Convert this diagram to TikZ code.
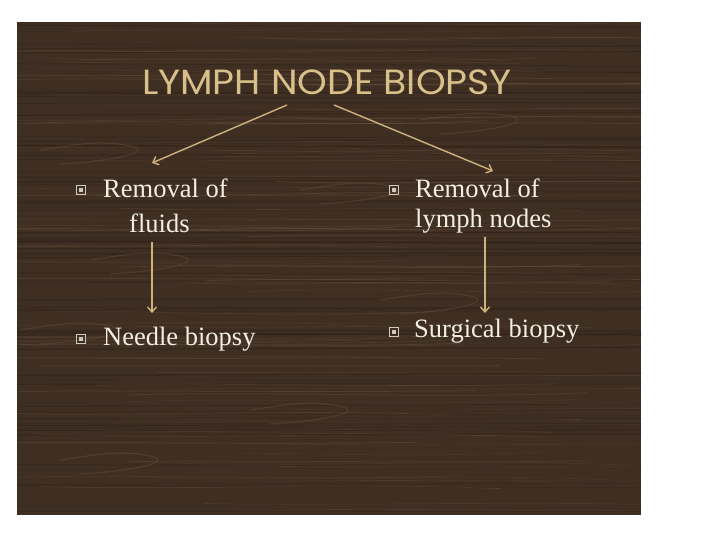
\documentclass[tikz,border=0pt]{standalone}
\usepackage{fontspec}
\newfontfamily\titlefont{Poppins}
\newfontfamily\bodyfont{Liberation Serif}
\usetikzlibrary{arrows.meta}
\definecolor{wood}{HTML}{3F2E22}
\definecolor{woodlight}{HTML}{6E5743}
\definecolor{wooddark}{HTML}{2E2118}
\definecolor{gold}{HTML}{D8C08A}
\definecolor{arrowgold}{HTML}{CDB47C}
\definecolor{bodytext}{HTML}{F3EEE2}
\tikzset{
  titletext/.style={font=\titlefont\fontsize{35}{38}\selectfont, text=gold, inner sep=0pt, xscale=1.08},
  bodytxt/.style={font=\bodyfont\fontsize{26.5}{30}\selectfont, text=bodytext, inner sep=0pt, anchor=base west, align=left},
  conn/.style={draw=arrowgold, line width=1.4pt, -{Straight Barb[length=5pt,width=9pt,line width=1.4pt]}},
  bulletbox/.style={draw=bodytext!85!black, line width=0.8pt, minimum size=8.5pt, inner sep=0pt},
}
\begin{document}
\begin{tikzpicture}[x=1pt,y=-1pt]
\useasboundingbox (0,0) rectangle (720,540);
\fill[white] (0,0) rectangle (720,540);
% wood panel
\fill[wood] (17,22) rectangle (641,515);
\begin{scope}
\clip (17,22) rectangle (641,515);
\pgfmathsetseed{7}
\foreach \i in {1,...,110}{
  \pgfmathsetmacro{\yy}{22+rnd*495}
  \pgfmathsetmacro{\dy}{(rnd-0.5)*14}
  \pgfmathsetmacro{\op}{0.15+rnd*0.35}
  \pgfmathsetmacro{\xa}{-100+rnd*400}
  \draw[woodlight, opacity=\op, line width=0.7pt] (\xa,\yy) .. controls (\xa+150,\yy+\dy) and (\xa+300,\yy-\dy) .. (\xa+460,\yy+\dy*0.5);
}
\foreach \i in {1,...,70}{
  \pgfmathsetmacro{\yy}{22+rnd*495}
  \pgfmathsetmacro{\op}{0.25+rnd*0.4}
  \draw[wooddark, opacity=\op, line width=1pt] (17,\yy) -- (641,\yy+rnd*6-3);
}
% wavy lighter grain
\foreach \yy/\xx in {150/40, 190/300, 260/90, 300/380, 330/20, 410/250, 460/60, 120/420}{
  \draw[woodlight, opacity=0.35, line width=1.2pt] (\xx,\yy) .. controls (\xx+40,\yy-6) and (\xx+60,\yy-10) .. (\xx+90,\yy-4) .. controls (\xx+120,\yy+3) and (\xx+60,\yy+12) .. (\xx+20,\yy+14);
}
\end{scope}
% title
\node[titletext] (title) at (327,82) {LYMPH NODE BIOPSY};
% left column
\node[bodytxt] (rf) at (103,197) {Removal of};
\node[bodytxt] (fl) at (129,233) {fluids};
\node[bodytxt] (nb) at (103,345) {Needle biopsy};
% right column
\node[bodytxt] (rl) at (415,197) {Removal of};
\node[bodytxt] (ln) at (415,228) {lymph nodes};
\node[bodytxt] (sb) at (414,337) {Surgical biopsy};
% bullets
\foreach \n/\x/\y in {b1/81/190, b2/81/339, b3/394/190, b4/394/332}{
  \node[bulletbox] (\n) at (\x,\y) {};
  \fill[bodytext!85!black] (\n.center) +(-1.6,-1.6) rectangle +(1.6,1.6);
}
% connectors
\coordinate (tl) at (287,105);
\coordinate (tr) at (334,105);
\coordinate (lt) at (152,163);
\coordinate (rt) at (493,171);
\draw[conn] (tl) -- (lt);
\draw[conn] (tr) -- (rt);
\coordinate (fb) at (152,242);
\coordinate (nt) at (152,313);
\draw[conn] (fb) -- (nt);
\coordinate (lb) at (485,237);
\coordinate (st) at (485,313);
\draw[conn] (lb) -- (st);
\end{tikzpicture}
\end{document}
